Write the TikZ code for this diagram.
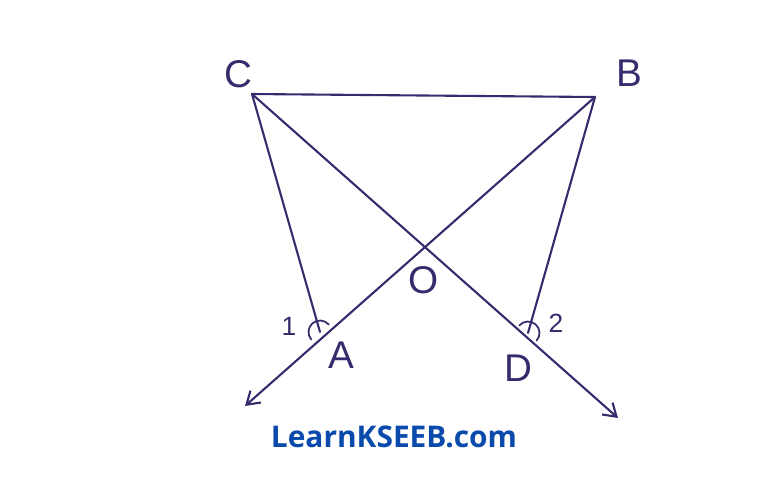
\documentclass[tikz,border=0pt]{standalone}
\usepackage{fontspec}
\setmainfont{Liberation Sans}
\newfontfamily\sitefont{Open Sans}
\usetikzlibrary{arrows.meta}
\definecolor{ink}{RGB}{52,44,108}
\definecolor{siteblue}{RGB}{10,74,172}

\begin{document}
\begin{tikzpicture}[x=0.02cm,y=-0.02cm]
	\tikzset{pen/.style={draw=ink,line width=1.2pt,line cap=round},
		lbl/.style={text=ink,font=\fontsize{22}{22}\selectfont,inner sep=0pt},
		num/.style={text=ink,font=\fontsize{15}{15}\selectfont,inner sep=0pt}}
	\useasboundingbox (0,0) rectangle (768,485);
	\coordinate (C) at (252,94);
	\coordinate (B) at (595,97);
	\coordinate (A) at (320,332);
	\coordinate (D) at (528,333);
	\coordinate (Aend) at (245,406);
	\coordinate (Dend) at (618,418);
	% triangle lines and the crossing
	\draw[pen] (C) -- (B);
	\draw[pen] (C) -- (A);
	\draw[pen] (B) -- (D);
	\draw[pen,-{Straight Barb[length=7pt,width=9pt]}] (B) -- (Aend);
	\draw[pen,-{Straight Barb[length=7pt,width=9pt]}] (C) -- (Dend);
	% angle marks
	\draw[pen,line width=1pt] (A) ++(40.5:0.23cm) arc[start angle=40.5,end angle=220.5,radius=0.23cm];
	\draw[pen,line width=1pt] (D) ++(-41:0.23cm) arc[start angle=-41,end angle=139,radius=0.23cm];
	% labels
	\node[lbl] (lc) at (238,74) {C};
	\node[lbl] (lb) at (629,73) {B};
	\node[lbl] (lo) at (424,280) {O};
	\node[lbl] (la) at (341,355) {A};
	\node[lbl] (ld) at (518,368) {D};
	\node[num] (n1) at (289,326) {1};
	\node[num] (n2) at (556,323) {2};
	\node[text=siteblue,font=\sitefont\bfseries\fontsize{17}{17}\selectfont] (site) at (394,437) {LearnKSEEB.com};
\end{tikzpicture}
\end{document}
